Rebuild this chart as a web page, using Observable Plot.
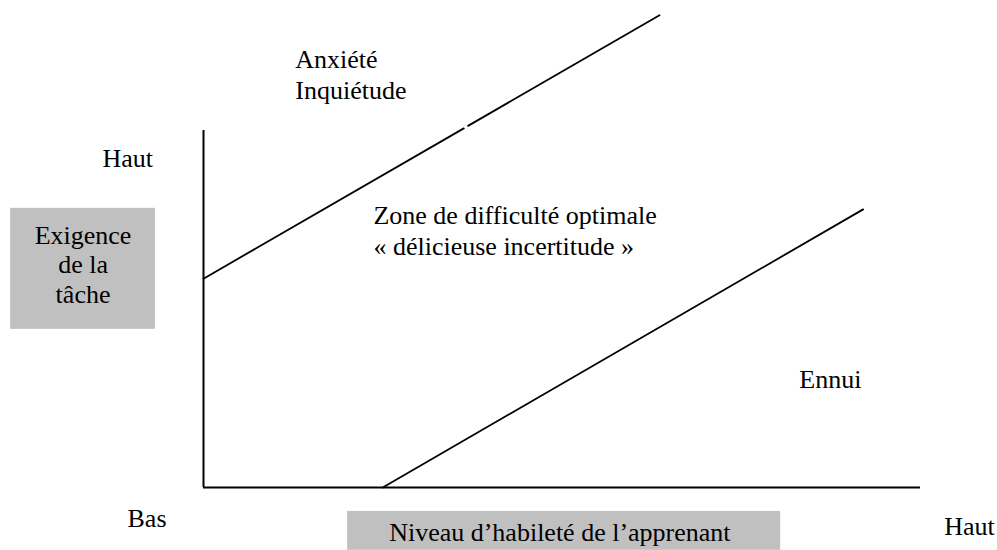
<!DOCTYPE html>
<html>
<head>
<meta charset="utf-8">
<script src="https://cdn.jsdelivr.net/npm/d3@7"></script>
<script src="https://cdn.jsdelivr.net/npm/@observablehq/plot@0.6"></script>
<style>
  html, body { margin: 0; padding: 0; background: #ffffff; }
  #chart svg { display: block; }
  #chart svg text { font-family: "Liberation Serif", Tinos, "Times New Roman", "Nimbus Roman", "DejaVu Serif", serif !important; }
</style>
</head>
<body>
<div id="chart"></div>
<script>
// Conceptual space: x = niveau d'habileté (0–100), y = exigence de la tâche (0–100)
const upperLine = [
  {seg: "a", x: 0, y: 58.5},
  {seg: "a", x: 36.3, y: 100.6},
  {seg: "b", x: 36.9, y: 101.3},
  {seg: "b", x: 63.6, y: 132.3}
];
const lowerLine = [
  {seg: "c", x: 25.0, y: 0},
  {seg: "c", x: 92.0, y: 77.9}
];
const zoneLabels = [
  {text: "Anxiété", x: 12.8, y: 117.4},
  {text: "Inquiétude", x: 12.8, y: 108.7},
  {text: "Zone de difficulté optimale", x: 23.7, y: 73.7},
  {text: "« délicieuse incertitude »", x: 23.7, y: 65.0},
  {text: "Ennui", x: 83.1, y: 28.0},
  {text: "Haut", x: -14.1, y: 89.9},
  {text: "Bas", x: -10.6, y: -11.2},
  {text: "Haut", x: 103.3, y: -13.2}
];
const axisBoxes = [
  {x1: -26.9, x2: -6.7, y1: 44.3, y2: 78.2},
  {x1: 20.1, x2: 80.5, y1: -17.6, y2: -6.7}
];
const boxLabels = [
  {text: "Exigence", x: -16.8, y: 68.3},
  {text: "de la", x: -16.8, y: 60.2},
  {text: "tâche", x: -16.8, y: 51.8},
  {text: "Niveau d’habileté de l’apprenant", x: 49.7, y: -15.1}
];

const font = "\"Liberation Serif\", Tinos, \"Times New Roman\", \"Nimbus Roman\", \"DejaVu Serif\", serif";

const chart = Plot.plot({
  width: 997,
  height: 550,
  marginLeft: 203,
  marginRight: 77,
  marginTop: 130,
  marginBottom: 63,
  x: {domain: [0, 100], axis: null},
  y: {domain: [0, 100], axis: null},
  style: {background: "#ffffff", overflow: "visible"},
  marks: [
    Plot.rect(axisBoxes, {x1: "x1", x2: "x2", y1: "y1", y2: "y2", fill: "#c0c0c0"}),
    Plot.ruleX([0], {y1: 0, y2: 100, stroke: "#000", strokeWidth: 2}),
    Plot.ruleY([0], {x1: 0, x2: 100, stroke: "#000", strokeWidth: 2}),
    Plot.line(upperLine, {x: "x", y: "y", z: "seg", stroke: "#000", strokeWidth: 1.8}),
    Plot.line(lowerLine, {x: "x", y: "y", z: "seg", stroke: "#000", strokeWidth: 1.8}),
    Plot.text(zoneLabels, {x: "x", y: "y", text: "text", textAnchor: "start", lineAnchor: "bottom", fontSize: 26, fontFamily: font, fill: "#000"}),
    Plot.text(boxLabels, {x: "x", y: "y", text: "text", textAnchor: "middle", lineAnchor: "bottom", fontSize: 26, fontFamily: font, fill: "#000"})
  ]
});
document.getElementById("chart").appendChild(chart);
</script>
</body>
</html>
